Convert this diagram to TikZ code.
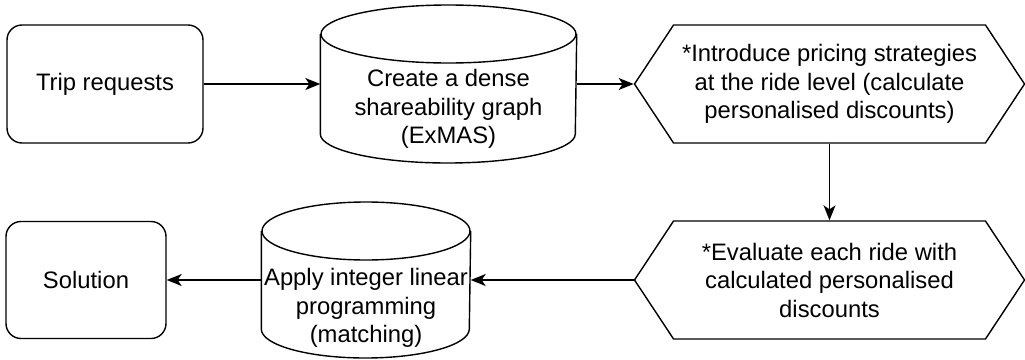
\documentclass[tikz,border=0pt]{standalone}
\usepackage{fontspec}
\setmainfont{Liberation Sans}
\usetikzlibrary{arrows.meta,shapes.symbols}

\begin{document}
\begin{tikzpicture}[x=1pt,y=-1pt,>={Stealth[length=15pt,width=12pt,inset=4pt]},
  font=\fontsize{23.8}{28.5}\selectfont,line width=1.4pt,
  stepbox/.style={draw,rounded corners=15pt,align=center,inner sep=0pt},
  storetext/.style={align=center,inner sep=0pt},
  hexbox/.style={draw,signal,signal to=east and west,signal pointer angle=113,align=center,
    inner sep=0pt,minimum width=390pt,minimum height=118pt},
  flow/.style={->}]
\useasboundingbox (0,0) rectangle (1025,359);
% top row
\node[stepbox,minimum width=196pt,minimum height=118pt] (trip) at (105,84) {Trip requests};
\node[storetext,minimum width=255pt] (dense) at (448.5,109)
{Create a dense\\shareability graph\\(ExMAS)};
\draw ([yshift=75pt]dense.center) ellipse[x radius=127.5pt,y radius=29pt];
\draw ([yshift=75pt]dense.west) -- ([yshift=-25pt]dense.west)
  arc[start angle=180,end angle=360,x radius=127.5pt,y radius=29pt]
  -- ([yshift=75pt]dense.east);
\node[hexbox] (price) at (829.5,84)
{*Introduce pricing strategies\\at the ride level (calculate\\personalised discounts)};
% bottom row
\node[hexbox] (eval) at (829.5,280)
{*Evaluate each ride with\\calculated personalised\\discounts};
\node[storetext,minimum width=208pt] (ilp) at (366,308)
{Apply integer linear\\programming\\(matching)};
\draw ([yshift=77pt]ilp.center) ellipse[x radius=104pt,y radius=29pt];
\draw ([yshift=77pt]ilp.west) -- ([yshift=-21pt]ilp.west)
  arc[start angle=180,end angle=360,x radius=104pt,y radius=29pt]
  -- ([yshift=77pt]ilp.east);
\node[stepbox,minimum width=160pt,minimum height=117pt] (sol) at (86,280) {Solution};
% connectors
\draw[flow] (trip.east) -- (trip.east -| dense.west);
\draw[flow] (dense.east |- price.west) -- (price.west);
\draw[flow] (price.south) -- (eval.north);
\draw[flow] (eval.west) -- (eval.west -| ilp.east);
\draw[flow] (ilp.west |- sol.east) -- (sol.east);
\end{tikzpicture}
\end{document}
